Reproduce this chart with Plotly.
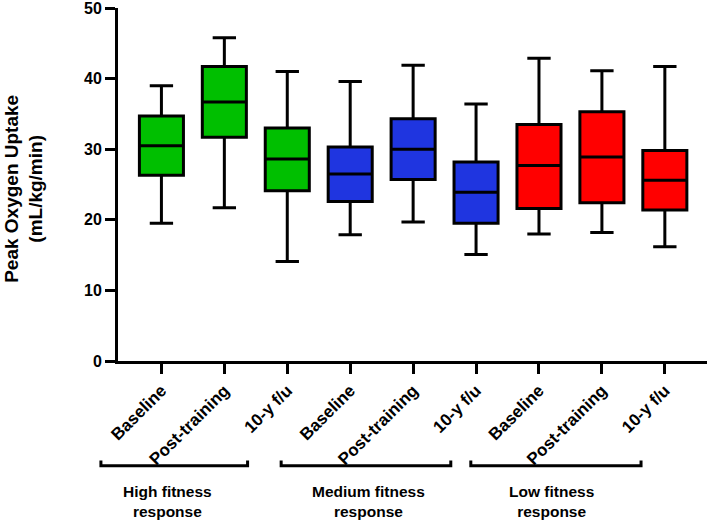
import plotly.graph_objects as go

# ---- data ----
tick_labels = ["Baseline", "Post-training", "10-y f/u",
               "Baseline", "Post-training", "10-y f/u",
               "Baseline", "Post-training", "10-y f/u"]
group_names = ["High fitness<br>response", "Medium fitness<br>response", "Low fitness<br>response"]
group_colors = ["#00BF00", "#1F35E0", "#FF0000"]

high_min = [19.5, 21.7, 14.1]
high_q1 = [26.3, 31.7, 24.1]
high_med = [30.5, 36.7, 28.6]
high_q3 = [34.7, 41.7, 33.0]
high_max = [39.0, 45.8, 41.0]

med_min = [17.9, 19.7, 15.1]
med_q1 = [22.6, 25.7, 19.5]
med_med = [26.5, 30.0, 23.9]
med_q3 = [30.3, 34.3, 28.2]
med_max = [39.6, 41.9, 36.4]

low_min = [18.0, 18.2, 16.2]
low_q1 = [21.6, 22.4, 21.4]
low_med = [27.7, 28.9, 25.6]
low_q3 = [33.5, 35.3, 29.8]
low_max = [42.9, 41.1, 41.7]

y_ticks = [0, 10, 20, 30, 40, 50]
y_title = "Peak Oxygen Uptake<br>(mL/kg/min)"

FONT = "Liberation Sans, Arial, Helvetica, sans-serif"

groups = [
    (high_min, high_q1, high_med, high_q3, high_max),
    (med_min, med_q1, med_med, med_q3, med_max),
    (low_min, low_q1, low_med, low_q3, low_max),
]

fig = go.Figure()
for gi, (mn, q1, md, q3, mx) in enumerate(groups):
    xs = [gi * 3 + k for k in range(3)]
    fig.add_trace(go.Box(
        x=xs, lowerfence=mn, q1=q1, median=md, q3=q3, upperfence=mx,
        fillcolor=group_colors[gi],
        line=dict(color="black", width=3),
        width=0.7, whiskerwidth=0.53,
        boxpoints=False, showlegend=False, hoverinfo="skip",
    ))

# group brackets (paper coords)
brackets = [(-0.029, 0.220), (0.277, 0.565), (0.599, 0.888)]
label_x = [0.0847, 0.426, 0.736]
yb, yt = -0.297, -0.282
shapes = []
for (x0, x1) in brackets:
    shapes.append(dict(type="path", xref="paper", yref="paper",
                       path=f"M {x0},{yt} L {x0},{yb} L {x1},{yb} L {x1},{yt}",
                       line=dict(color="black", width=3)))
annotations = []
for name, lx in zip(group_names, label_x):
    annotations.append(dict(text=f"<b>{name}</b>", xref="paper", yref="paper", x=lx, y=-0.398,
                            xanchor="center", yanchor="middle", showarrow=False,
                            font=dict(family=FONT, size=15.5, color="black")))
annotations.append(dict(text=f"<b>{y_title}</b>", xref="paper", yref="paper", x=-0.16, y=0.487,
                        xanchor="center", yanchor="middle", textangle=-90,
                        showarrow=False,
                        font=dict(family=FONT, size=19, color="black")))

fig.update_layout(
    width=709, height=523,
    margin=dict(l=118, r=2, t=8, b=162, autoexpand=False),
    paper_bgcolor="white", plot_bgcolor="white",
    boxmode="overlay",
    font=dict(family=FONT, color="black"),
    shapes=shapes, annotations=annotations,
    xaxis=dict(range=[-0.69, 8.67], tickmode="array",
               tickvals=list(range(len(tick_labels))),
               ticktext=[f"<b>{t}</b>" for t in tick_labels],
               tickangle=-45, ticks="outside", ticklen=10, tickwidth=3,
               tickcolor="black", showline=True, linewidth=3, linecolor="black",
               showgrid=False, zeroline=False, automargin=False,
               ticklabeloverflow="allow",
               tickfont=dict(family=FONT, size=17, color="black")),
    yaxis=dict(range=[0, 50], tickmode="array", tickvals=y_ticks,
               ticktext=[f"<b>{v}</b>" for v in y_ticks],
               ticks="outside", ticklen=10, tickwidth=3, tickcolor="black",
               showline=True, linewidth=3, linecolor="black",
               showgrid=False, zeroline=False, automargin=False,
               ticklabeloverflow="allow",
               tickfont=dict(family=FONT, size=16, color="black")),
)

fig.write_html(
    "out.html",
    config={"displayModeBar": False},
    post_script="document.body.style.margin='0';document.body.style.padding='0';document.body.style.overflow='hidden';",
)
